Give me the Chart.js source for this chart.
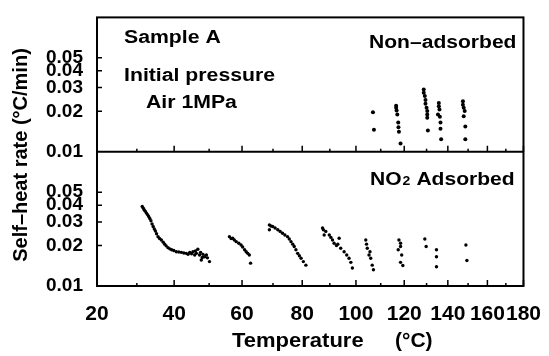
<!DOCTYPE html>
<html>
<head>
<meta charset="utf-8">
<script src="https://cdn.jsdelivr.net/npm/chart.js@4.4.1/dist/chart.umd.min.js"></script>
<style>
  html, body { margin: 0; padding: 0; background: #fff; }
  canvas { display: block; }
</style>
</head>
<body>
<canvas id="heatChart" width="549" height="356"></canvas>
<script>
// Données (température en °C, vitesse en °C/min)
const nonAdsTemp = [106.8, 107.2,
  116.5, 116.5, 116.7, 117.0, 117.4, 117.5, 117.7, 118.4,
  128.7, 128.7, 129.2, 129.5, 129.5, 130.0, 130.3, 130.3, 130.3, 130.6,
  135.7, 135.7, 136.0, 135.3, 136.2, 136.5, 136.5, 136.8,
  147.4, 147.4, 147.8, 148.3, 147.8, 148.6, 148.6];
const nonAdsRate = [0.0197, 0.0146,
  0.0220, 0.0212, 0.0203, 0.0189, 0.0165, 0.0152, 0.0141, 0.0115,
  0.0291, 0.0275, 0.0260, 0.0243, 0.0228, 0.0212, 0.0201, 0.0189, 0.0179, 0.0144,
  0.0230, 0.0218, 0.0206, 0.0189, 0.0182, 0.0165, 0.0148, 0.0124,
  0.0237, 0.0224, 0.0212, 0.0201, 0.0184, 0.0154, 0.0124];

const adsTemp = [31.4, 31.7, 31.9, 32.2, 32.5, 32.8, 33.1, 33.4, 33.7, 34.0, 34.3, 34.6, 34.9, 35.2, 35.6,
  36.0, 36.5, 37.0, 37.4, 37.8, 38.3, 38.8, 39.3, 39.9, 40.6, 41.3, 42.0, 42.7, 43.4, 43.9, 44.4, 44.9,
  45.3, 45.8, 46.0, 46.3, 46.7, 47.2, 47.5, 47.7, 48.0, 48.2, 48.7, 49.2, 49.5, 50.1,
  56.1, 56.6, 57.1, 57.6, 58.2, 59.0, 59.7, 60.2, 60.8, 61.3, 61.8, 62.3, 62.7,
  68.8, 68.8, 69.3, 69.9, 70.7, 71.6, 72.4, 73.2, 74.0, 74.9, 75.5, 76.1, 76.7, 77.2, 77.8, 78.4, 79.0, 79.6, 80.4, 81.3,
  87.3, 87.6, 87.9, 88.5, 89.8, 90.4, 91.0, 91.6, 92.5, 93.0, 93.5, 94.1, 95.4, 96.4, 97.3, 98.0, 98.6,
  103.9, 104.2, 104.5, 105.2, 105.6, 105.9, 106.5, 107.0,
  117.7, 118.4, 118.4, 117.4, 118.9, 118.4, 119.4,
  129.2, 129.8, 134.6, 134.6, 134.6,
  148.9, 149.4];
const adsRate = [0.0391, 0.0380, 0.0369, 0.0360, 0.0349, 0.0340, 0.0329, 0.0318, 0.0306, 0.0290, 0.0277, 0.0266, 0.0257, 0.0245, 0.0233,
  0.0226, 0.0220, 0.0212, 0.0205, 0.0199, 0.0193, 0.0189, 0.0186, 0.0184, 0.0180, 0.0179, 0.0178, 0.0176, 0.0175, 0.0172, 0.0178, 0.0174,
  0.0180, 0.0170, 0.0182, 0.0175, 0.0188, 0.0170, 0.0178, 0.0156, 0.0163, 0.0172, 0.0165, 0.0170, 0.0162, 0.0152,
  0.0233, 0.0226, 0.0227, 0.0220, 0.0214, 0.0208, 0.0202, 0.0195, 0.0186, 0.0180, 0.0175, 0.0170, 0.0148,
  0.0285, 0.0262, 0.0280, 0.0277, 0.0270, 0.0262, 0.0255, 0.0247, 0.0240, 0.0233, 0.0224, 0.0214, 0.0205, 0.0197, 0.0186, 0.0175, 0.0168, 0.0161, 0.0152, 0.0143,
  0.0270, 0.0262, 0.0240, 0.0255, 0.0240, 0.0230, 0.0220, 0.0208, 0.0200, 0.0205, 0.0227, 0.0191, 0.0180, 0.0170, 0.0161, 0.0150, 0.0136,
  0.0220, 0.0205, 0.0191, 0.0170, 0.0180, 0.0161, 0.0143, 0.0132,
  0.0220, 0.0208, 0.0197, 0.0186, 0.0170, 0.0150, 0.0142,
  0.0224, 0.0197, 0.0186, 0.0165, 0.0139,
  0.0202, 0.0155];

const xTickLabels = [20, 40, 60, 80, 100, 120, 140, 160, 180];
const xMinorTicks = [30, 50, 70, 90, 110, 130, 150, 170];
const yTickLabels = [0.01, 0.02, 0.03, 0.04, 0.05];

const FONT = '"Liberation Sans", Arial, sans-serif';

// Échelle en 1/T (axe des abscisses de type Arrhenius, gradué en °C)
const LinearScale = Chart.LinearScale || Chart.registry.getScale('linear');
class InverseTempScale extends LinearScale {
  getPixelForValue(value) {
    if (value === null || value === undefined) return NaN;
    const a = 1 / (this.min + 273.15), b = 1 / (this.max + 273.15);
    return this.getPixelForDecimal((a - 1 / (value + 273.15)) / (a - b));
  }
  getValueForPixel(pixel) {
    const a = 1 / (this.min + 273.15), b = 1 / (this.max + 273.15);
    const d = this.getDecimalForPixel(pixel);
    return 1 / (a - d * (a - b)) - 273.15;
  }
}
InverseTempScale.id = 'inverseTemp';
Chart.register(InverseTempScale);

function toPoints(temps, rates) {
  return temps.map((t, i) => ({ x: t, y: rates[i] }));
}

function stretchText(ctx, txt, x, y, size, sx, align) {
  ctx.save();
  ctx.font = 'bold ' + size + 'px ' + FONT;
  ctx.fillStyle = '#000';
  ctx.textBaseline = 'alphabetic';
  ctx.textAlign = align || 'left';
  ctx.translate(x, y);
  ctx.scale(sx, 1);
  ctx.fillText(txt, 0, 0);
  ctx.restore();
}

const logAxis = (weight) => ({
  type: 'logarithmic',
  position: 'left',
  stack: 'panels',
  stackWeight: 1,
  weight: weight,
  min: 0.01,
  max: 0.1,
  grid: { display: false },
  border: { display: false },
  afterBuildTicks: (scale) => { scale.ticks = yTickLabels.map(v => ({ value: v })); },
  afterFit: (scale) => { scale.width = 97; },
  ticks: {
    autoSkip: false,
    padding: 6,
    color: '#000',
    font: { family: FONT, size: 19, weight: 'bold' },
    callback: (v) => Number(v).toFixed(2)
  }
});

// Cadre, graduations intérieures et textes
const framePlugin = {
  id: 'frame',
  afterDraw(chart) {
    const ctx = chart.ctx;
    const area = chart.chartArea;
    const x = chart.scales.x;
    const yTop = chart.scales.yTop;
    const yBot = chart.scales.yBottom;
    const mid = yTop.bottom;

    ctx.save();
    ctx.strokeStyle = '#000';
    ctx.lineWidth = 2;
    ctx.strokeRect(area.left, area.top, area.right - area.left, area.bottom - area.top);
    ctx.beginPath();
    ctx.moveTo(area.left, mid);
    ctx.lineTo(area.right, mid);
    ctx.stroke();

    ctx.lineWidth = 1.5;
    ctx.beginPath();
    [yTop, yBot].forEach(s => {
      yTickLabels.slice(1).forEach(v => {
        const py = s.getPixelForValue(v);
        ctx.moveTo(area.left, py);
        ctx.lineTo(area.left + 5, py);
      });
    });
    [area.bottom, mid].forEach(base => {
      xTickLabels.forEach(t => {
        const px = x.getPixelForValue(t);
        ctx.moveTo(px, base);
        ctx.lineTo(px, base - 6);
      });
      xMinorTicks.forEach(t => {
        const px = x.getPixelForValue(t);
        ctx.moveTo(px, base);
        ctx.lineTo(px, base - 3);
      });
    });
    ctx.stroke();
    ctx.restore();

    stretchText(ctx, 'Sample A', area.left + 27, area.top + 26, 18, 1.18);
    stretchText(ctx, 'Initial pressure', area.left + 27, area.top + 64, 18, 1.18);
    stretchText(ctx, 'Air 1MPa', area.left + 49, area.top + 91, 18, 1.18);
    stretchText(ctx, 'Non\u2013adsorbed', area.right - 7, area.top + 31, 18, 1.17, 'right');

    // NO2 avec indice
    ctx.save();
    ctx.font = 'bold 18px ' + FONT;
    const base = yBot.top + 33;
    let cx = area.left + 273;
    stretchText(ctx, 'NO', cx, base, 18, 1.17);
    cx += ctx.measureText('NO').width * 1.17 + 1;
    stretchText(ctx, '2', cx, base, 12, 1.17);
    ctx.font = 'bold 12px ' + FONT;
    cx += ctx.measureText('2').width * 1.17 + 6;
    stretchText(ctx, 'Adsorbed', cx, base, 18, 1.17);
    ctx.restore();

    // Titres des axes
    stretchText(ctx, 'Temperature', 232, 347, 20, 1.1);
    stretchText(ctx, '(\u00b0C)', 395, 347, 20, 1.05);
    ctx.save();
    ctx.translate(27, 155);
    ctx.rotate(-Math.PI / 2);
    stretchText(ctx, 'Self\u2013heat rate (\u00b0C/min)', 0, 0, 20, 1.0, 'center');
    ctx.restore();
  }
};

new Chart(document.getElementById('heatChart').getContext('2d'), {
  type: 'scatter',
  data: {
    datasets: [
      {
        label: 'Non-adsorbed',
        data: toPoints(nonAdsTemp, nonAdsRate),
        yAxisID: 'yTop',
        pointRadius: 2,
        pointBackgroundColor: '#000',
        pointBorderWidth: 0
      },
      {
        label: 'NO2 Adsorbed',
        data: toPoints(adsTemp, adsRate),
        yAxisID: 'yBottom',
        pointRadius: 1.7,
        pointBackgroundColor: '#000',
        pointBorderWidth: 0
      }
    ]
  },
  options: {
    responsive: false,
    animation: false,
    devicePixelRatio: 1,
    layout: { padding: { top: 12, right: 24, left: 0, bottom: 0 } },
    scales: {
      x: {
        type: 'inverseTemp',
        min: 20,
        max: 180,
        grid: { display: false },
        border: { display: false },
        afterBuildTicks: (scale) => { scale.ticks = xTickLabels.map(v => ({ value: v })); },
        afterFit: (scale) => { scale.height = 70; },
        ticks: {
          autoSkip: false,
          maxRotation: 0,
          padding: 8,
          color: '#000',
          font: { family: FONT, size: 21, weight: 'bold' },
          callback: (v) => String(v)
        }
      },
      yTop: logAxis(2),
      yBottom: logAxis(1)
    },
    plugins: {
      legend: { display: false },
      tooltip: { enabled: false }
    }
  },
  plugins: [framePlugin]
});
</script>
</body>
</html>
